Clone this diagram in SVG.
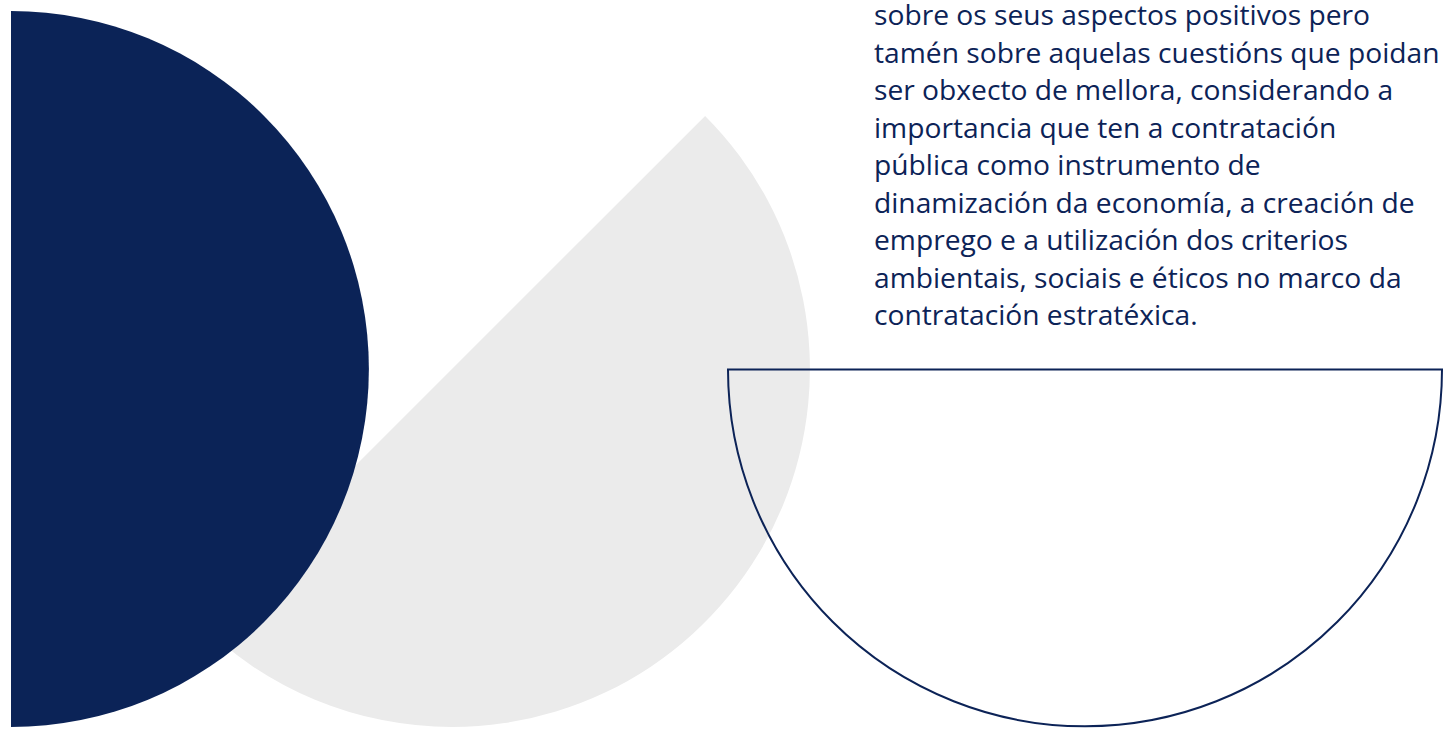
<svg xmlns="http://www.w3.org/2000/svg" width="1443" height="729" viewBox="0 0 1443 729">
<style>
.t{font-family:"Open Sans","Noto Sans",sans-serif;font-size:28.2px;fill:#0c2357}
</style>
<rect width="1443" height="729" fill="#ffffff"/>
<g id="gray-shape"><path d="M705.1 115.9 A358 358 0 0 1 452 727 A358 358 0 0 1 198.9 622.1 Z" fill="#ebebeb"/></g>
<g id="outline-semicircle"><path d="M728 369.5 H1442 A357 357 0 0 1 728 369.5 Z" fill="none" stroke="#0c2357" stroke-width="2"/></g>
<g id="navy-half"><path d="M11 11 A358 358 0 0 1 11 727 Z" fill="#0b2357"/></g>
<g id="text">
<text class="t" x="874" y="25">sobre os seus aspectos positivos pero</text>
<text class="t" x="874" y="62.5">tamén sobre aquelas cuestións que poidan</text>
<text class="t" x="874" y="100">ser obxecto de mellora, considerando a</text>
<text class="t" x="874" y="137.5">importancia que ten a contratación</text>
<text class="t" x="874" y="175">pública como instrumento de</text>
<text class="t" x="874" y="212.5">dinamización da economía, a creación de</text>
<text class="t" x="874" y="250">emprego e a utilización dos criterios</text>
<text class="t" x="874" y="287.5">ambientais, sociais e éticos no marco da</text>
<text class="t" x="874" y="325">contratación estratéxica.</text>
</g>
</svg>
